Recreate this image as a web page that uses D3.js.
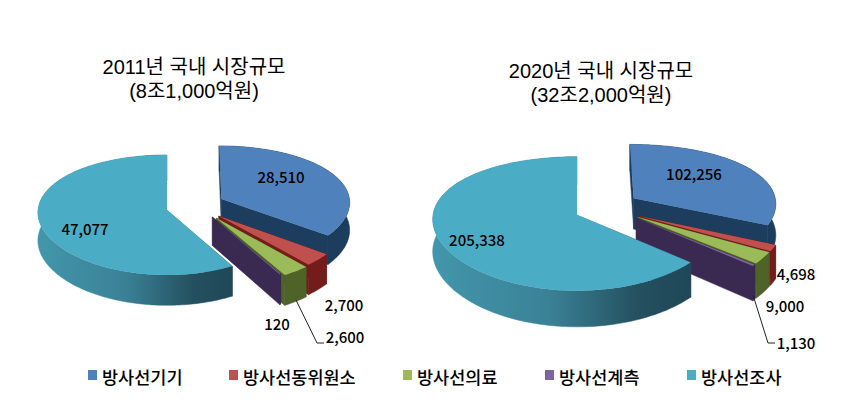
<!DOCTYPE html>
<html><head><meta charset="utf-8">
<script src="https://cdn.jsdelivr.net/npm/d3@7"></script>
<style>html,body{margin:0;background:#fff}svg{display:block}text{font-family:"Noto Sans CJK KR","Noto Sans",sans-serif;fill:#000}text.title{font-family:"Liberation Sans","Noto Sans CJK KR",sans-serif}</style>
</head><body><svg id="c" width="842" height="409"></svg>
<script>
const categories = ["방사선기기","방사선동위원소","방사선의료","방사선계측","방사선조사"];
const values2011 = [28510,2700,2600,120,47077];
const values2020 = [102256,4698,9000,1130,205338];
const labels2011 = ["28,510","2,700","2,600","120","47,077"];
const labels2020 = ["102,256","4,698","9,000","1,130","205,338"];
const titles2011 = ["2011년 국내 시장규모","(8조1,000억원)"];
const titles2020 = ["2020년 국내 시장규모","(32조2,000억원)"];
const topColors = ["#4f81bd","#c0504d","#9bbb59","#8064a2","#4bacc6"];
const wallColors = ["#1d3d5e","#741c19","#4f6228","#3a2a52","url(#tealWall)"];

const layout = [
 {values:values2011,labels:labels2011,titles:titles2011,titleX:194,titleY:[67,91],
  cx:167,cy:210,rx:129,ry:60,k:.083,depth:28,
  explode:[[.425,-.185],[.40,.1],[.38,.133],[.35,.117],[0,0]],
  labelPos:[[281,178],[344,306],[345,338],[277,325],[85,230]],
  leader:[[296,300],[317,343],[324,343]]},
 {values:values2020,labels:labels2020,titles:titles2020,titleX:601,titleY:[71,95],
  cx:577,cy:215,rx:144,ry:67,k:.13,depth:32,
  explode:[[.40,-.26],[.43,.015],[.42,.03],[.41,.045],[0,0]],
  labelPos:[[694,175],[796,275],[785,307],[796,344],[477,241]],
  leader:[[753,295],[768,343],[775,343]]}
];
const legendX = [88,229,403,545,687];

const svg = d3.select("#c");
const grad = svg.append("defs").append("linearGradient").attr("id","tealWall");
[[0,"#4296ab"],[.45,"#3a8196"],[.8,"#24505f"],[1,"#1f4757"]].forEach(([o,c])=>grad.append("stop").attr("offset",o).attr("stop-color",c));

const pie = d3.pie().sort(null).value(d=>d);
const line = d3.line();
layout.forEach(p=>{
  const proj=(u,v,z=0)=>{const s=1+p.k*v,sx=1+p.k*v/2;return [p.cx+u*p.rx*sx,p.cy+v*p.ry*s+z*s];};
  const arcs=pie(p.values);
  const g=svg.append("g");
  arcs.forEach((a,i)=>{
    const [ex,ey]=p.explode[i];
    const pt=(t,r,z)=>proj(ex+r*Math.sin(t),ey-r*Math.cos(t),z);
    const n=Math.max(2,Math.ceil((a.endAngle-a.startAngle)/.02));
    const ts=d3.range(n+1).map(j=>a.startAngle+(a.endAngle-a.startAngle)*j/n);
    const wall=wallColors[i];
    const poly=d=>g.append("path").attr("d",line(d)+"Z").attr("fill",wall).attr("stroke",wall).attr("stroke-width",.5);
    const face=t=>poly([pt(t,0,0),pt(t,1,0),pt(t,1,p.depth),pt(t,0,p.depth)]);
    face(a.startAngle); face(a.endAngle);
    poly(ts.map(t=>pt(t,1,0)).concat(ts.slice().reverse().map(t=>pt(t,1,p.depth))));
    g.append("path").attr("d",line([pt(0,0,0)].concat(ts.map(t=>pt(t,1,0))))+"Z").attr("fill",topColors[i]);
  });
  svg.append("path").attr("d",line(p.leader)).attr("fill","none").attr("stroke","#222").attr("stroke-width",1);
  p.labels.forEach((t,i)=>svg.append("text").attr("x",p.labelPos[i][0]).attr("y",p.labelPos[i][1]).attr("dy",".36em")
    .attr("text-anchor","middle").attr("font-size",15).attr("font-weight",500).text(t));
  p.titles.forEach((t,i)=>svg.append("text").attr("class","title").attr("text-anchor","middle").attr("font-size",20)
    .attr("x",p.titleX).attr("y",p.titleY[i]).attr("dy",".36em").text(t));
});
categories.forEach((c,i)=>{
  svg.append("rect").attr("x",legendX[i]).attr("y",370).attr("width",9).attr("height",10).attr("fill",topColors[i]);
  svg.append("text").attr("x",legendX[i]+14).attr("y",378).attr("dy",".36em").attr("font-size",17.5).attr("font-weight",500).text(c);
});
</script></body></html>
